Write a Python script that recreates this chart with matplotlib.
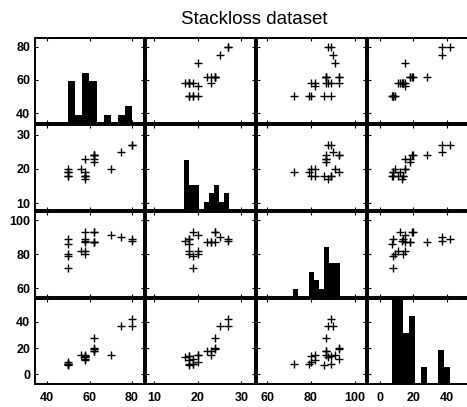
import numpy as np
import matplotlib.pyplot as plt

plt.rcParams['font.family'] = ['Liberation Sans', 'DejaVu Sans']

# stackloss data (21 runs)
air_flow = [80, 80, 75, 62, 62, 62, 62, 62, 58, 58, 58, 58, 58, 58, 50, 50, 50, 50, 50, 56, 70]
water_temp = [27, 27, 25, 24, 22, 23, 24, 24, 23, 18, 18, 17, 18, 19, 18, 18, 19, 19, 20, 20, 20]
acid_conc = [89, 88, 90, 87, 87, 87, 93, 93, 87, 80, 89, 88, 82, 93, 89, 86, 72, 79, 80, 82, 91]
stack_loss = [42, 37, 37, 28, 18, 18, 19, 20, 15, 14, 14, 13, 11, 12, 8, 7, 8, 8, 9, 15, 15]

limits = [(34, 85.5), (8, 33), (55, 105), (-7.5, 58)]
tick_vals = [[40, 60, 80], [10, 20, 30], [60, 80, 100], [0, 20, 40]]
hist_bins = [np.linspace(49.9, 80.1, 10), np.linspace(16.9, 27.1, 10),
             np.linspace(71.9, 93.1, 10), np.linspace(7, 42, 11)]
hist_right = [False, False, False, True]
hist_frac = [0.59, 0.59, 0.59, 1.0]

data = [np.array(v) for v in (air_flow, water_temp, acid_conc, stack_loss)]
n = len(data)

W, H = 467, 407
fig = plt.figure(figsize=(W / 100, H / 100), dpi=100)

left0, top0 = 34.5, 37.5
pitch_x, pitch_y = 111, 87
w, h = 109, 85.5


def hist_counts(x, edges, right):
    # right=True -> bins closed on the right, like R's hist()
    if right:
        return np.histogram(-x, bins=-edges[::-1])[0][::-1]
    return np.histogram(x, bins=edges)[0]


for i in range(n):
    for j in range(n):
        x0 = left0 + j * pitch_x
        y0 = top0 + i * pitch_y
        ax = fig.add_axes([x0 / W, 1 - (y0 + h) / H, w / W, h / H])
        ax.set_xlim(limits[j])
        ax.set_ylim(limits[i])
        if i == j:
            edges = hist_bins[i]
            counts = hist_counts(data[i], edges, hist_right[i])
            lo, hi = limits[i]
            heights = counts / counts.max() * hist_frac[i] * (hi - lo)
            ax.bar(edges[:-1], heights, width=np.diff(edges), align='edge',
                   bottom=lo, color='black', linewidth=0)
        else:
            ax.plot(data[j], data[i], '+', color='black', ms=6, mew=1.0)
        ax.set_xticks(tick_vals[j])
        ax.set_yticks(tick_vals[i])
        ax.tick_params(direction='in', length=2.5, width=0.8,
                       top=True, right=True, labelsize=9)
        ax.tick_params(axis='x', pad=6)
        ax.tick_params(axis='y', pad=3)
        for lab in ax.get_xticklabels() + ax.get_yticklabels():
            lab.set_fontweight('bold')
        if i != n - 1:
            ax.set_xticklabels([])
        if j != 0:
            ax.set_yticklabels([])
        for s in ax.spines.values():
            s.set_linewidth(1.4)

fig.text(254.5 / W, 1 - 20 / H, 'Stackloss dataset', ha='center', va='center',
         fontsize=13.5)

fig.savefig('out.png', dpi=100)
